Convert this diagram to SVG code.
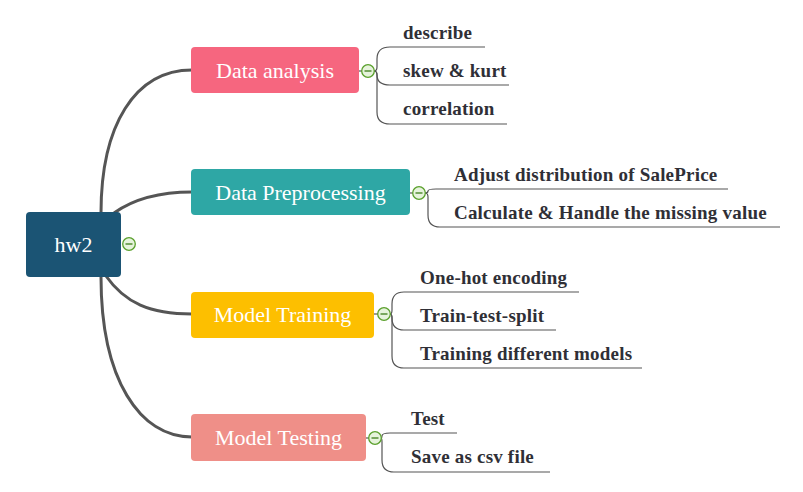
<svg xmlns="http://www.w3.org/2000/svg" width="803" height="492" viewBox="0 0 803 492">
<style>
text{font-family:'Liberation Serif','DejaVu Serif',serif}
.main{font-size:22px;fill:#ffffff;text-anchor:middle}
.sub{font-size:19px;font-weight:bold;fill:#2f2f36;letter-spacing:0.2px}
.thick{fill:none;stroke:#555555;stroke-width:3}
.thin{fill:none;stroke:#555555;stroke-width:1.2}
.tog circle{fill:#e6f3dc;stroke:#5aa02c;stroke-width:1.3}
.tog line{stroke:#3d7d1a;stroke-width:1.3}
</style>
<rect width="803" height="492" fill="#ffffff"/>
<g id="connectors">
<path class="thick" d="M101,213 C101,125 135,70 192,70"/>
<path class="thick" d="M114,213 C135,198 160,192 192,192"/>
<path class="thick" d="M106,276 C125,303 150,314 192,314"/>
<path class="thick" d="M101,277 C101,380 140,437 192,437"/>
<path class="thin" d="M359,71 L362,71"/>
<path class="thin" d="M374,71 Q377,71 377,67 L377,59 Q377,47 390,47 L485,47"/>
<path class="thin" d="M374,71 Q377,71 377,75 L377,75 Q377,85 390,85 L509,85"/>
<path class="thin" d="M374,71 Q377,71 377,75 L377,112 Q377,124 390,124 L507,124"/>
<path class="thin" d="M410,193 L413,193"/>
<path class="thin" d="M425,193 Q428,193 428,191 Q428,189 436,189 L728,189"/>
<path class="thin" d="M425,193 Q428,193 428,197 L428,215 Q428,227 440,227 L780,227"/>
<path class="thin" d="M374,314 L378,314"/>
<path class="thin" d="M390,314 Q392,314 392,310 L392,304 Q392,292 404,292 L579,292"/>
<path class="thin" d="M390,314 Q392,314 392,318 L392,318 Q392,330 404,330 L556,330"/>
<path class="thin" d="M390,314 Q392,314 392,318 L392,356 Q392,368 404,368 L642,368"/>
<path class="thin" d="M366,438 L369,438"/>
<path class="thin" d="M381,438 Q382,438 382,436 Q382,433 390,433 L457,433"/>
<path class="thin" d="M381,438 Q382,438 382,442 L382,460 Q382,472 394,472 L550,472"/>
</g>
<g id="root">
<rect x="26" y="212" width="95" height="65" rx="4" fill="#1b5474"/>
<text class="main" x="73.5" y="252">hw2</text>
<g class="tog"><circle cx="129" cy="244" r="6.3"/><line x1="125.5" y1="244" x2="132.5" y2="244"/></g>
</g>
<g id="data-analysis">
<rect x="191" y="47" width="168" height="46" rx="4" fill="#f6667f"/>
<text class="main" x="275" y="78">Data analysis</text>
<g class="tog"><circle cx="368" cy="71" r="6.3"/><line x1="364.5" y1="71" x2="371.5" y2="71"/></g>
</g>
<g id="describe"><text class="sub" x="403" y="39">describe</text></g>
<g id="skew-kurt"><text class="sub" x="403" y="77">skew &amp; kurt</text></g>
<g id="correlation"><text class="sub" x="403" y="115">correlation</text></g>
<g id="data-preprocessing">
<rect x="191" y="169" width="219" height="46" rx="4" fill="#2ea7a5"/>
<text class="main" x="300.5" y="200">Data Preprocessing</text>
<g class="tog"><circle cx="419" cy="193" r="6.3"/><line x1="415.5" y1="193" x2="422.5" y2="193"/></g>
</g>
<g id="adjust"><text class="sub" x="454" y="181">Adjust distribution of SalePrice</text></g>
<g id="calculate"><text class="sub" x="454" y="219">Calculate &amp; Handle the missing value</text></g>
<g id="model-training">
<rect x="191" y="292" width="183" height="46" rx="4" fill="#fdbf00"/>
<text class="main" x="282.5" y="322">Model Training</text>
<g class="tog"><circle cx="384" cy="314" r="6.3"/><line x1="380.5" y1="314" x2="387.5" y2="314"/></g>
</g>
<g id="one-hot"><text class="sub" x="420" y="284">One-hot encoding</text></g>
<g id="train-test-split"><text class="sub" x="420" y="322">Train-test-split</text></g>
<g id="training-models"><text class="sub" x="420" y="360">Training different models</text></g>
<g id="model-testing">
<rect x="191" y="414" width="175" height="47" rx="4" fill="#ef8f88"/>
<text class="main" x="278.5" y="445">Model Testing</text>
<g class="tog"><circle cx="375" cy="438" r="6.3"/><line x1="371.5" y1="438" x2="378.5" y2="438"/></g>
</g>
<g id="test"><text class="sub" x="411" y="425">Test</text></g>
<g id="save-csv"><text class="sub" x="411" y="463">Save as csv file</text></g>
</svg>
